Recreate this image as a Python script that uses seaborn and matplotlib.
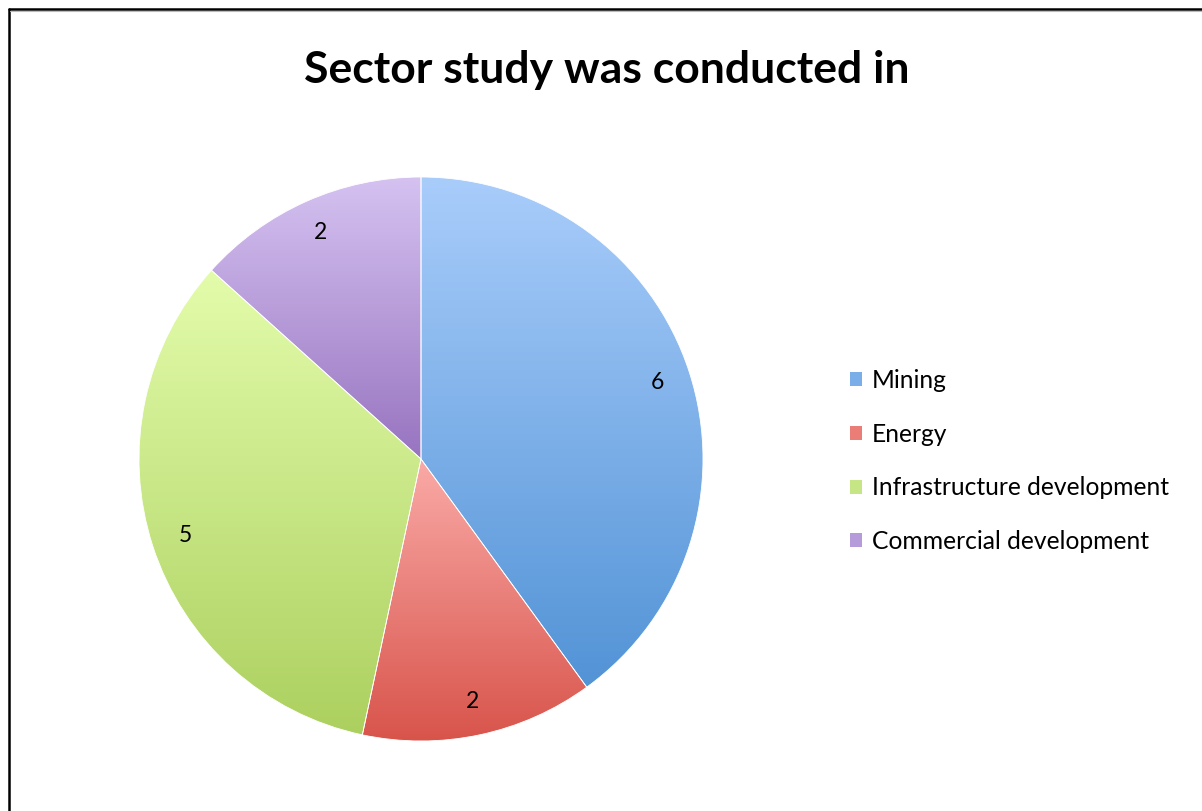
import numpy as np
import matplotlib
matplotlib.use("Agg")
import matplotlib.pyplot as plt
from matplotlib.patches import Patch
from matplotlib.lines import Line2D
import seaborn as sns

sectors = ["Mining", "Energy", "Infrastructure development", "Commercial development"]
counts = [6, 2, 5, 2]
top_colors = ["#a9cdfb", "#faaaa7", "#e3fcab", "#d5c2f1"]
bottom_colors = ["#5293d6", "#d8544b", "#acd05f", "#9874c0"]
mid_colors = ["#7aaee8", "#ea7d76", "#c6e585", "#b59bd9"]

sns.set_theme(style="white")
plt.rcParams["font.family"] = ["Lato", "DejaVu Sans"]
plt.rcParams["text.color"] = "black"

fig = plt.figure(figsize=(12.02, 8.11), dpi=100)
W, H = 1202, 811
cx, cy, r = 421, 459, 282
ax = fig.add_axes([(cx - r) / W, (H - cy - r) / H, 2 * r / W, 2 * r / H])

total = sum(counts)
wedges, texts, autotexts = ax.pie(
    counts, startangle=90, counterclock=False,
    autopct=lambda p: f"{round(p * total / 100)}", pctdistance=0.88,
    wedgeprops=dict(facecolor="none", edgecolor="white", linewidth=0.6),
    textprops=dict(fontsize=16.5, color="black"),
)
ax.set_xlim(-1, 1)
ax.set_ylim(-1, 1)
ax.set_aspect("equal")
ax.axis("off")

# vertical gradient in each slice, light at top, dark at bottom
grad = np.linspace(0, 1, 256).reshape(-1, 1)
for w, c0, c1 in zip(wedges, top_colors, bottom_colors):
    cmap = sns.blend_palette([c0, c1], n_colors=256, as_cmap=True)
    ext = w.get_path().get_extents()
    im = ax.imshow(grad, cmap=cmap, aspect="auto", origin="upper",
                   extent=[ext.x0, ext.x1, ext.y0, ext.y1], zorder=0.5)
    im.set_clip_path(w)
ax.set_xlim(-1, 1)
ax.set_ylim(-1, 1)
for t in autotexts:
    t.set_zorder(5)

fig.text(607 / W, 1 - 70 / H, "Sector study was conducted in",
         ha="center", va="center", fontsize=32, fontweight="bold", color="black")

handles = [Patch(facecolor=c, edgecolor="none") for c in mid_colors]
fig.legend(handles, sectors, loc="center left", bbox_to_anchor=(850 / W, 1 - 461 / H),
           frameon=False, fontsize=17.7, borderpad=0, borderaxespad=0,
           handlelength=0.5, handleheight=0.5, handletextpad=0.4, labelspacing=1.25,
           labelcolor="black")

# frame lines at the left and top
fig.add_artist(Line2D([9 / W, 9 / W], [0, 1 - 9 / H], color="black", lw=1.8))
fig.add_artist(Line2D([9 / W, 1], [1 - 9 / H, 1 - 9 / H], color="black", lw=1.8))
fig.add_artist(Line2D([10.5 / W, 1], [1 - 10.8 / H, 1 - 10.8 / H], color="#bbbbbb", lw=0.8))

fig.savefig("out.png", dpi=100)
